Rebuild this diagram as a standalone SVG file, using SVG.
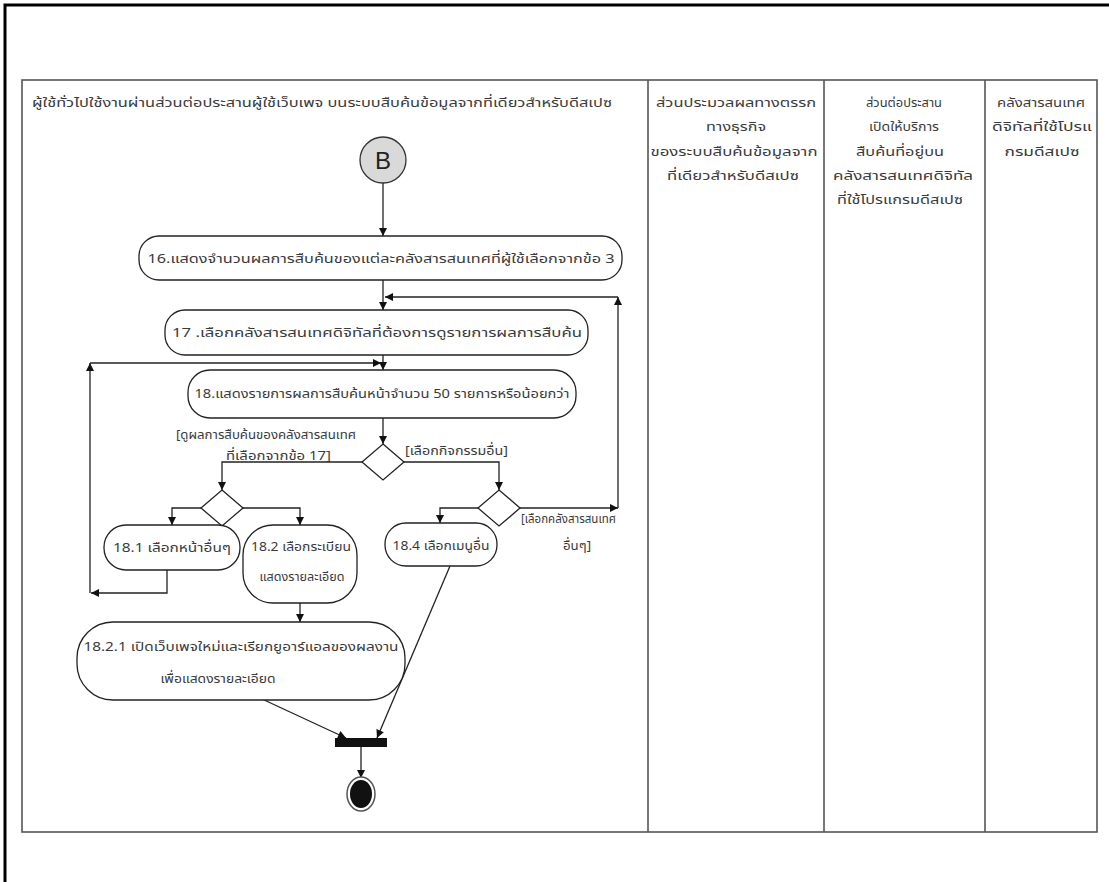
<svg xmlns="http://www.w3.org/2000/svg" width="1109" height="882" viewBox="0 0 1109 882">
  <style>
    text { font-family: "Noto Sans Thai", "Noto Sans", "DejaVu Sans", sans-serif; font-size: 13px; fill: #3a3a3a; }
    .hd { text-anchor: middle; }
    .lane { fill: none; stroke: #555; stroke-width: 1.6; }
    .node { fill: #fff; stroke: #222; stroke-width: 1.3; }
    .dia { fill: #fff; stroke: #222; stroke-width: 1.3; }
    .edge { fill: none; stroke: #222; stroke-width: 1.3; }
    .arr { marker-end: url(#ah); }
    .mid { text-anchor: middle; }
  </style>
  <defs>
    <marker id="ah" viewBox="0 0 10 10" refX="10" refY="5" markerWidth="9" markerHeight="8" markerUnits="userSpaceOnUse" orient="auto">
      <path d="M0,0 L10,5 L0,10 z" fill="#111"/>
    </marker>
  </defs>

  <rect width="1109" height="882" fill="#fff"/>
  <!-- page frame -->
  <path d="M5,882 V5 H1109" fill="none" stroke="#000" stroke-width="3"/>

  <!-- swimlanes -->
  <g id="lanes">
    <rect class="lane" x="22" y="80" width="1075" height="752"/>
    <line class="lane" x1="648" y1="80" x2="648" y2="832"/>
    <line class="lane" x1="824" y1="80" x2="824" y2="832"/>
    <line class="lane" x1="985" y1="80" x2="985" y2="832"/>
    <text x="32" y="107" textLength="580" lengthAdjust="spacingAndGlyphs">ผู้ใช้ทั่วไปใช้งานผ่านส่วนต่อประสานผู้ใช้เว็บเพจ บนระบบสืบค้นข้อมูลจากที่เดียวสำหรับดีสเปซ</text>
    <text class="hd" x="736" y="107" textLength="160" lengthAdjust="spacingAndGlyphs">ส่วนประมวลผลทางตรรก</text>
    <text class="hd" x="736" y="131" textLength="60" lengthAdjust="spacingAndGlyphs">ทางธุรกิจ</text>
    <text class="hd" x="734" y="156" textLength="167" lengthAdjust="spacingAndGlyphs">ของระบบสืบค้นข้อมูลจาก</text>
    <text class="hd" x="733" y="180" textLength="132" lengthAdjust="spacingAndGlyphs">ที่เดียวสำหรับดีสเปซ</text>
    <text class="hd" x="904" y="107" textLength="76" lengthAdjust="spacingAndGlyphs">ส่วนต่อประสาน</text>
    <text class="hd" x="904" y="131" textLength="70" lengthAdjust="spacingAndGlyphs">เปิดให้บริการ</text>
    <text class="hd" x="900" y="156" textLength="88" lengthAdjust="spacingAndGlyphs">สืบค้นที่อยู่บน</text>
    <text class="hd" x="903" y="180" textLength="140" lengthAdjust="spacingAndGlyphs">คลังสารสนเทศดิจิทัล</text>
    <text class="hd" x="900" y="204" textLength="126" lengthAdjust="spacingAndGlyphs">ที่ใช้โปรแกรมดีสเปซ</text>
    <text class="hd" x="1041" y="107" textLength="88" lengthAdjust="spacingAndGlyphs">คลังสารสนเทศ</text>
    <text class="hd" x="1042" y="131" textLength="100" lengthAdjust="spacingAndGlyphs">ดิจิทัลที่ใช้โปรแ</text>
    <text class="hd" x="1042" y="156" textLength="75" lengthAdjust="spacingAndGlyphs">กรมดีสเปซ</text>
  </g>

  <!-- connectors -->
  <g id="connectors">
    <path class="edge arr" d="M383,183 V236"/>
    <path class="edge arr" d="M383,280 V310"/>
    <path class="edge arr" d="M383,355 V370"/>
    <path class="edge arr" d="M383,418 V444"/>
    <!-- return to 17 -->
    <path class="edge arr" d="M520,508 H618"/>
    <path class="edge arr" d="M618,508 V297"/>
    <path class="edge arr" d="M618,297 H385"/>
    <!-- return to 18 -->
    <path class="edge arr" d="M167,570 V593 H91"/>
    <path class="edge arr" d="M90,593 V363"/>
    <path class="edge arr" d="M90,363 H381"/>
    <!-- decision branches -->
    <path class="edge arr" d="M362,462 H222 V490"/>
    <path class="edge arr" d="M404,462 H499 V490"/>
    <path class="edge arr" d="M201,508 H172 V525"/>
    <path class="edge arr" d="M243,508 H300 V525"/>
    <path class="edge arr" d="M478,508 H440 V523"/>
    <path class="edge arr" d="M300,603 V622"/>
    <!-- join -->
    <path class="edge arr" d="M262,699 L346,738"/>
    <path class="edge arr" d="M450,566 L377,738"/>
    <path class="edge arr" d="M361,747 V778"/>
    <text x="176" y="439" textLength="180" lengthAdjust="spacingAndGlyphs">[ดูผลการสืบค้นของคลังสารสนเทศ</text>
    <text x="226" y="460" textLength="105" lengthAdjust="spacingAndGlyphs">ที่เลือกจากข้อ 17]</text>
    <text x="405" y="455" textLength="103" lengthAdjust="spacingAndGlyphs">[เลือกกิจกรรมอื่น]</text>
    <text x="521" y="523" textLength="95" lengthAdjust="spacingAndGlyphs">[เลือกคลังสารสนเทศ</text>
    <text x="563" y="550" textLength="28" lengthAdjust="spacingAndGlyphs">อื่นๆ]</text>
  </g>

  <g id="start-B">
    <circle cx="383" cy="160" r="23" fill="#d9d9d9" stroke="#333" stroke-width="1.3"/>
    <text x="383" y="169" class="mid" style="font-family:'Liberation Sans',sans-serif;font-size:24px;fill:#222">B</text>
  </g>
  <g id="n16">
    <rect class="node" x="139" y="236" width="483" height="44" rx="20"/>
    <text class="mid" x="381" y="263" textLength="467" lengthAdjust="spacingAndGlyphs">16.แสดงจำนวนผลการสืบค้นของแต่ละคลังสารสนเทศที่ผู้ใช้เลือกจากข้อ 3</text>
  </g>
  <g id="n17">
    <rect class="node" x="165" y="310" width="423" height="45" rx="20"/>
    <text class="mid" x="377" y="337" textLength="410" lengthAdjust="spacingAndGlyphs">17 .เลือกคลังสารสนเทศดิจิทัลที่ต้องการดูรายการผลการสืบค้น</text>
  </g>
  <g id="n18">
    <rect class="node" x="188" y="370" width="388" height="48" rx="22"/>
    <text class="mid" x="382" y="398" textLength="375" lengthAdjust="spacingAndGlyphs">18.แสดงรายการผลการสืบค้นหน้าจำนวน 50 รายการหรือน้อยกว่า</text>
  </g>
  <g id="d1"><path class="dia" d="M383,444 L404,462 L383,480 L362,462 Z"/></g>
  <g id="d2"><path class="dia" d="M222,490 L243,508 L222,526 L201,508 Z"/></g>
  <g id="d3"><path class="dia" d="M499,490 L520,508 L499,526 L478,508 Z"/></g>
  <g id="n18-1">
    <rect class="node" x="104" y="525" width="136" height="45" rx="22"/>
    <text class="mid" x="172" y="552" textLength="118" lengthAdjust="spacingAndGlyphs">18.1 เลือกหน้าอื่นๆ</text>
  </g>
  <g id="n18-2">
    <rect class="node" x="243" y="525" width="114" height="78" rx="30"/>
    <text class="mid" x="301" y="551" textLength="100" lengthAdjust="spacingAndGlyphs">18.2 เลือกระเบียน</text>
    <text class="mid" x="302" y="581" textLength="85" lengthAdjust="spacingAndGlyphs">แสดงรายละเอียด</text>
  </g>
  <g id="n18-4">
    <rect class="node" x="385" y="523" width="112" height="43" rx="21"/>
    <text class="mid" x="441" y="550" textLength="97" lengthAdjust="spacingAndGlyphs">18.4 เลือกเมนูอื่น</text>
  </g>
  <g id="n18-2-1">
    <rect class="node" x="77" y="622" width="328" height="78" rx="36"/>
    <text class="mid" x="241" y="651" textLength="315" lengthAdjust="spacingAndGlyphs">18.2.1 เปิดเว็บเพจใหม่และเรียกยูอาร์แอลของผลงาน</text>
    <text class="mid" x="218" y="683" textLength="115" lengthAdjust="spacingAndGlyphs">เพื่อแสดงรายละเอียด</text>
  </g>
  <g id="join">
    <rect x="335" y="738" width="52" height="9" fill="#111"/>
  </g>
  <g id="end">
    <ellipse cx="361" cy="794" rx="14" ry="17" fill="#fff" stroke="#555" stroke-width="1.5"/>
    <ellipse cx="361" cy="794" rx="11" ry="14" fill="#111"/>
  </g>
</svg>
